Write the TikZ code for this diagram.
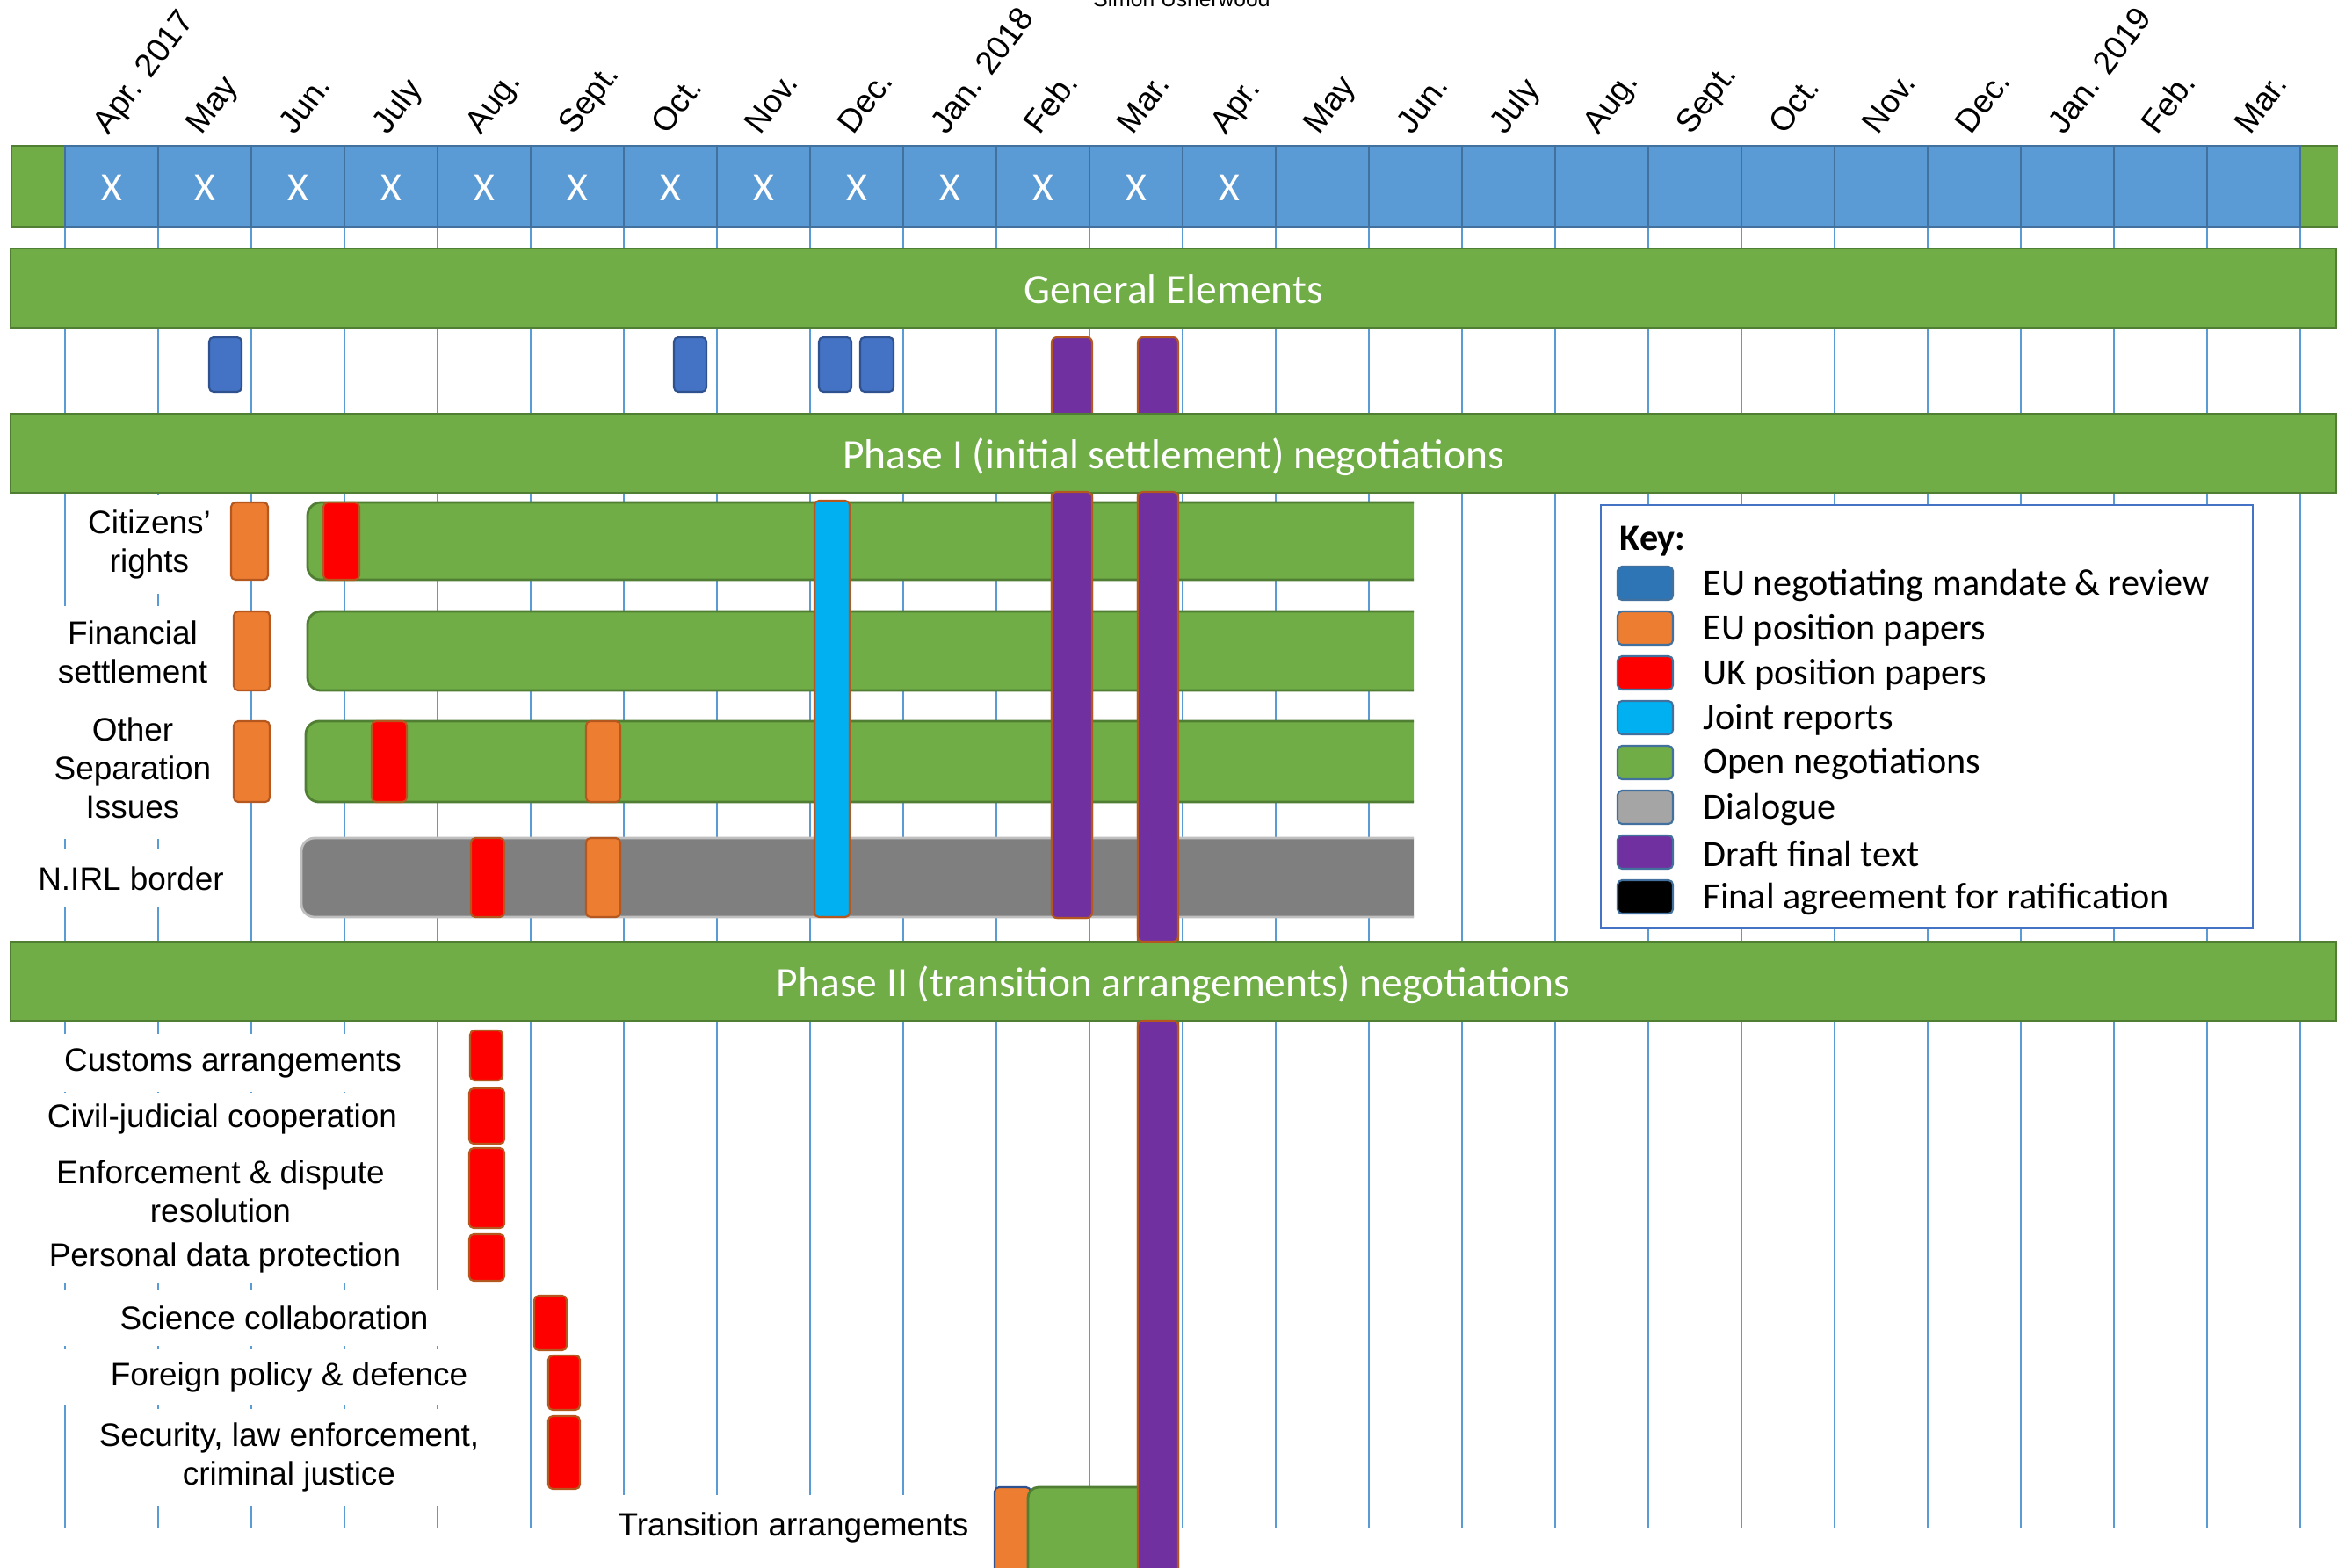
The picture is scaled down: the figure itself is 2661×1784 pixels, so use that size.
\documentclass[tikz,border=0pt]{standalone}
\usepackage{fontspec}
\setmainfont{Liberation Sans}
\newfontfamily\calfont{Carlito}
\definecolor{topblue}{HTML}{5B9BD5}
\definecolor{topborder}{HTML}{41719C}
\definecolor{ogreen}{HTML}{70AD47}
\definecolor{dgreen}{HTML}{507E32}
\definecolor{mblue}{HTML}{4472C4}
\definecolor{mblueb}{HTML}{2F528F}
\definecolor{eorange}{HTML}{ED7D31}
\definecolor{brownb}{HTML}{B4581F}
\definecolor{jblue}{HTML}{00B0F0}
\definecolor{dpurple}{HTML}{7030A0}
\definecolor{dgray}{HTML}{7F7F7F}
\definecolor{lgrayb}{HTML}{BFBFBF}
\definecolor{keyblue}{HTML}{2E75B6}
\definecolor{keygray}{HTML}{A5A5A5}
\definecolor{keyframe}{HTML}{4472C4}
\begin{document}
\begin{tikzpicture}[x=0.01cm,y=-0.01cm,
  gridline/.style={draw=topblue,line width=0.45pt},
  cell/.style={fill=topblue,draw=topborder,line width=0.6pt},
  gcell/.style={fill=ogreen,draw=dgreen,line width=0.6pt},
  hdr/.style={fill=ogreen,draw=dgreen,line width=0.7pt,text=white,
    font=\calfont\fontsize{13.5}{16}\selectfont,minimum width=26.45cm,minimum height=0.9cm,inner sep=0pt,text height=0.43cm,text depth=0.09cm},
  month/.style={font=\fontsize{10.6}{12}\selectfont,rotate=53,anchor=base west,inner sep=0pt},
  xmark/.style={font=\calfont\fontsize{13}{15}\selectfont,text=white,inner sep=0pt},
  lbl/.style={fill=white,align=center,font=\fontsize{10.5}{12.5}\selectfont,inner sep=0pt,yshift=-0.04cm},
  ebox/.style={fill=eorange,draw=brownb,line width=0.6pt,rounded corners=0.05cm},
  ukbox/.style={fill=red,draw=brownb,line width=0.6pt,rounded corners=0.05cm},
  mbox/.style={fill=mblue,draw=mblueb,line width=0.6pt,rounded corners=0.05cm},
  jbox/.style={fill=jblue,draw=brownb,line width=0.6pt,rounded corners=0.05cm},
  pbox/.style={fill=dpurple,draw=brownb,line width=0.6pt,rounded corners=0.06cm},
  gbar/.style={fill=ogreen,draw=dgreen,line width=0.8pt,rounded corners=0.15cm},
  graybar/.style={fill=dgray,draw=lgrayb,line width=0.8pt,rounded corners=0.15cm},
  keysq/.style={draw=topborder,line width=0.6pt,rounded corners=0.05cm},
  keytxt/.style={font=\calfont\fontsize{12}{14}\selectfont,anchor=west,inner sep=0pt}]
\useasboundingbox (0,0) rectangle (2661,1784);

% author
\node[font=\fontsize{7}{8}\selectfont,anchor=base,inner sep=0pt] (author) at (1345,7) {Simon Usherwood};

% grid lines
\foreach \k in {0,...,24} {\draw[gridline] ({74+106*\k},258) -- ({74+106*\k},1740);}

% top bar
\draw[gcell] (13,166) rectangle (74,258);
\draw[gcell] (2618,166) rectangle (2680,258);
\foreach \i in {0,...,23} {\draw[cell] ({74+106*\i},166) rectangle ({180+106*\i},258);}
\foreach \i in {0,...,12} {\node[xmark] (x\i) at ({127+106*\i},214) {X};}

% month labels
\foreach \m [count=\i from 0] in {Apr. 2017,May,Jun.,July,Aug.,Sept.,Oct.,Nov.,Dec.,Jan. 2018,Feb.,Mar.,Apr.,May,Jun.,July,Aug.,Sept.,Oct.,Nov.,Dec.,Jan. 2019,Feb.,Mar.}
  {\node[month] (m\i) at ({123+106*\i},155) {\m};}

% purple draft final text (behind headers)
\draw[pbox] (1197,384) rectangle (1243,1045);
\draw[pbox] (1295,384) rectangle (1341,1820);

% headers
\node[hdr] (gen) at (1335.5,328) {General Elements};
\node[hdr] (ph1) at (1335.5,516) {Phase I (initial settlement) negotiations};
\node[hdr] (ph2) at (1335.5,1117) {Phase II (transition arrangements) negotiations};

% general elements boxes
\draw[mbox] (238,384) rectangle (275,446);
\draw[mbox] (767,384) rectangle (804,446);
\draw[mbox] (932,384) rectangle (969,446);
\draw[mbox] (979,384) rectangle (1017,446);

% Phase I labels
\node[lbl,minimum width=1.5cm,minimum height=1.12cm] (cit) at (170,616) {Citizens’\\rights};
\node[lbl,minimum width=2.22cm,minimum height=1.04cm] (fin) at (151,738) {Financial\\settlement};
\node[lbl,minimum width=2.22cm,minimum height=1.61cm] (oth) at (151,870) {Other\\Separation\\Issues};
\node[lbl,minimum width=2.38cm,minimum height=0.66cm] (nirl) at (149,996) {N.IRL border};

% Phase I bars
\begin{scope}
\clip (0,0) rectangle (1609,1784);
\draw[gbar] (350,572) rectangle (1650,660);
\draw[gbar] (350,696) rectangle (1650,786);
\draw[gbar] (348,821) rectangle (1650,913);
\draw[graybar] (343,954) rectangle (1650,1044);
\end{scope}

% Phase I papers
\draw[ebox] (263,572) rectangle (305,660);
\draw[ukbox] (368,572) rectangle (409,660);
\draw[ebox] (266,696) rectangle (307,786);
\draw[ebox] (266,821) rectangle (307,913);
\draw[ukbox] (423,821) rectangle (463,913);
\draw[ebox] (667,821) rectangle (706,913);
\draw[ukbox] (536,954) rectangle (574,1044);
\draw[ebox] (667,954) rectangle (706,1044);
\draw[jbox] (927,570) rectangle (967,1044);

% purple over Phase I rows
\draw[pbox] (1197,560) rectangle (1243,1045);
\draw[pbox] (1295,560) rectangle (1341,1072);

% Phase II labels
\node[lbl,minimum width=4.5cm,minimum height=0.66cm] (cust) at (265,1206) {Customs arrangements};
\node[lbl,minimum width=4.3cm,minimum height=0.6cm] (civ) at (253,1270) {Civil-judicial cooperation};
\node[lbl,minimum width=4.3cm,minimum height=1.05cm] (enf) at (251,1352) {Enforcement \& dispute\\resolution};
\node[lbl,minimum width=4.3cm,minimum height=0.56cm] (pers) at (256,1428) {Personal data protection};
\node[lbl,minimum width=5.5cm,minimum height=0.64cm] (sci) at (312,1496) {Science collaboration};
\node[lbl,minimum width=5.3cm,minimum height=0.64cm] (forp) at (329,1564) {Foreign policy \& defence};
\node[lbl,minimum width=4.9cm,minimum height=1.1cm] (sec) at (329,1655) {Security, law enforcement,\\criminal justice};
\node[lbl,minimum width=4.4cm,minimum height=0.75cm] (tra) at (903,1735) {Transition arrangements};

% Phase II papers
\draw[ukbox] (535,1173) rectangle (572,1230);
\draw[ukbox] (534,1239) rectangle (574,1302);
\draw[ukbox] (534,1307) rectangle (574,1398);
\draw[ukbox] (534,1405) rectangle (574,1458);
\draw[ukbox] (608,1475) rectangle (645,1537);
\draw[ukbox] (624,1543) rectangle (660,1605);
\draw[ukbox] (624,1612) rectangle (660,1695);

% transition
\draw[fill=eorange,draw=mblueb,line width=0.6pt,rounded corners=0.05cm] (1132,1693) rectangle (1173,1800);
\draw[gbar,rounded corners=0.12cm] (1170,1693) rectangle (1320,1800);
\draw[pbox] (1295,1162) rectangle (1341,1820);

% legend
\draw[fill=white,draw=keyframe,line width=0.6pt] (1822,575) rectangle (2564,1056);
\node[font=\calfont\bfseries\fontsize{12}{14}\selectfont,anchor=west,inner sep=0pt] (key) at (1843,616) {Key:};
\foreach \c/\t [count=\j from 0] in {keyblue/EU negotiating mandate \& review,eorange/EU position papers,red/UK position papers,jblue/Joint reports,ogreen/Open negotiations,keygray/Dialogue,dpurple/Draft final text,black/Final agreement for ratification}
{
  \draw[keysq,fill=\c] (1841,{645+51*\j}) rectangle (1904,{683+51*\j});
  \node[keytxt] (k\j) at (1938,{666+51*\j}) {\t};
}
\end{tikzpicture}
\end{document}
